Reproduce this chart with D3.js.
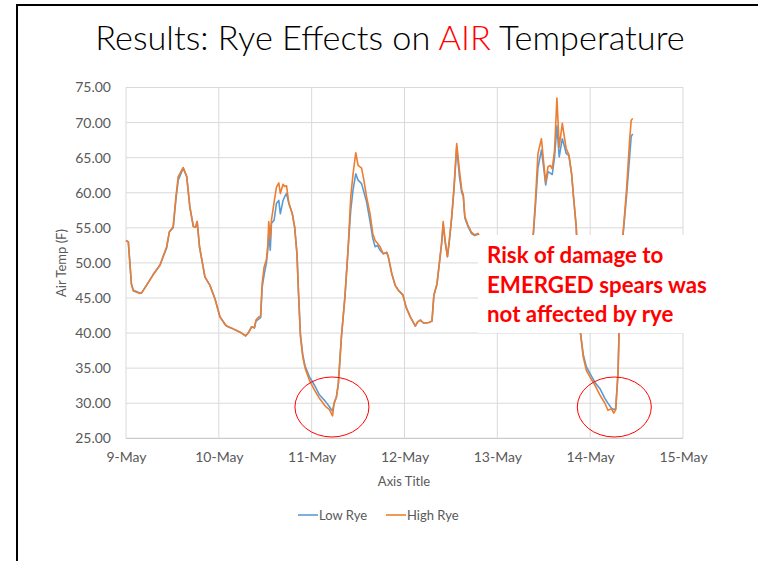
<!DOCTYPE html>
<html lang="en">
<head>
<meta charset="UTF-8" />
<title>Rye Effects on AIR Temperature</title>
<script src="https://d3js.org/d3.v7.min.js"></script>
<style>
  body { margin: 0; background: #fff; }
  svg { display: block; }
  .tick text, .lbl { font-family: Lato, "Open Sans", sans-serif; fill: #595959; }
</style>
</head>
<body>
<script>
// hours after 9-May 00:00
const hours = [0, 0.6, 1.4, 1.9, 3.6, 4.0, 5.3, 7.0, 8.8, 9.6, 10.5, 11.2, 12.2, 12.9, 13.5, 14.8, 15.7, 16.5, 17.4, 18.0,
  18.4, 19.0, 20.4, 21.7, 23.0, 24.3, 25.6, 26.0, 27.3, 29.9, 30.9, 31.6, 32.5, 33.2, 33.6, 34.3, 34.8, 35.2, 35.7, 36.3,
  36.7, 36.9, 37.3, 37.6, 38.3, 38.9, 39.5, 39.9, 40.6, 41.0, 41.5, 42.1, 43.0, 43.6, 44.2, 44.6, 45.1, 45.7, 46.3, 47.4,
  48.7, 50.0, 51.5, 52.6, 53.2, 53.4, 53.8, 54.4, 54.9, 55.7, 56.6, 57.4, 58.1, 58.7, 59.4, 60.0, 60.9, 61.5, 62.2, 63.1,
  63.8, 64.4, 65.0, 65.7, 66.5, 67.4, 67.8, 68.7, 69.6, 70.4, 71.6, 72.4, 73.5, 74.8, 75.4, 76.1, 77.0, 78.3, 79.1, 79.6,
  80.4, 81.0, 81.6, 82.0, 82.5, 83.1, 83.6, 84.2, 84.8, 85.5, 86.2, 86.8, 87.2, 87.6, 88.4, 89.3, 90.1, 91.0, 92.5, 94,
  96, 98, 100, 102, 103.5, 104.5, 105.3, 105.9, 106.5, 107.4, 108.0, 108.5, 109.1, 109.7, 110.2, 110.8, 111.4, 112.0, 112.8, 113.4,
  113.8, 114.5, 115.2, 115.7, 116.4, 117.0, 117.5, 118.2, 119.0, 119.9, 121.2, 122.5, 123.8, 124.6, 125.5, 126.1, 126.6, 127.2, 127.6, 128.0,
  128.5, 129.4, 130.2, 130.6, 131.0];

const lowRye = [53.2, 53.0, 47.0, 46.1, 45.7, 45.7, 46.8, 48.3, 49.7, 50.9, 52.1, 54.4, 55.0, 59.0, 61.8, 63.5, 62.3, 58.0, 55.2, 55.1,
  55.9, 52.3, 48.0, 46.8, 44.9, 42.3, 41.2, 41.0, 40.7, 40.0, 39.6, 40.0, 40.9, 40.7, 41.7, 42.0, 42.2, 46.5, 48.3, 50.0,
  52.1, 54.2, 51.8, 55.6, 56.1, 58.5, 58.9, 57.0, 58.9, 59.4, 59.9, 58.5, 57.0, 55.1, 51.3, 45.7, 39.8, 36.9, 35.3, 33.8,
  32.6, 31.2, 30.3, 29.5, 29.0, 28.9, 30.0, 30.9, 32.8, 39.5, 45.2, 51.8, 57.5, 60.4, 62.7, 61.8, 61.3, 60.1, 58.7, 55.9,
  53.5, 52.3, 52.5, 51.8, 51.3, 51.5, 50.9, 48.5, 46.8, 46.1, 45.4, 43.7, 42.3, 41.0, 41.6, 41.85, 41.4, 41.5, 41.7, 45.4,
  47.0, 49.9, 52.8, 55.5, 53.0, 50.9, 53.2, 56.4, 60.5, 66.5, 62.3, 60.0, 59.5, 56.4, 55.2, 54.2, 53.9, 54.1, 52.5, 49.5,
  46.5, 44.5, 43.5, 44.0, 47.0, 51.0, 54.0, 58.5, 63.5, 66.1, 63.5, 61.1, 63.0, 62.8, 62.6, 65.1, 69.5, 65.1, 67.7, 66.5,
  65.6, 65.3, 62.7, 59.4, 55.1, 47.5, 40.0, 37.0, 35.2, 34.3, 33.0, 32.1, 30.7, 30.0, 29.3, 29.1, 29.2, 34.3, 42.8, 48.5,
  54.0, 59.5, 65.1, 68.0, 68.4];

const highRye = [53.2, 53.0, 47.0, 46.0, 45.65, 45.7, 46.8, 48.3, 49.7, 50.9, 52.3, 54.4, 55.2, 59.4, 62.3, 63.6, 62.3, 58.0, 55.2, 55.1,
  55.9, 52.3, 48.0, 46.8, 44.9, 42.3, 41.3, 41.0, 40.7, 40.0, 39.6, 40.0, 40.9, 40.8, 41.85, 42.3, 42.4, 47.1, 49.4, 50.5,
  52.8, 55.9, 53.5, 56.1, 58.7, 60.8, 61.4, 59.9, 61.2, 60.9, 61.0, 58.5, 57.0, 55.1, 51.3, 45.65, 39.5, 36.6, 35.0, 33.3,
  31.9, 30.7, 29.6, 29.1, 28.4, 28.2, 30.0, 30.9, 32.8, 39.5, 45.2, 51.8, 59.4, 62.7, 65.7, 63.9, 63.5, 61.8, 59.4, 57.0,
  54.2, 53.2, 52.8, 52.3, 51.3, 51.5, 50.9, 48.5, 46.8, 46.1, 45.4, 43.7, 42.3, 41.0, 41.6, 41.85, 41.4, 41.5, 41.7, 45.4,
  47.0, 49.9, 52.8, 55.9, 53.2, 50.9, 53.2, 56.6, 60.8, 67.0, 63.2, 60.4, 59.7, 56.6, 55.4, 54.4, 54.0, 54.2, 52.5, 49.5,
  46.5, 44.5, 43.5, 44.0, 47.0, 51.0, 54.2, 59.4, 65.6, 67.7, 64.2, 61.5, 63.7, 63.9, 63.4, 66.1, 73.5, 66.5, 69.9, 67.7,
  66.3, 65.4, 62.7, 59.4, 55.1, 47.5, 40.0, 36.6, 34.7, 33.8, 32.6, 31.2, 30.0, 29.0, 29.2, 28.6, 29.1, 34.3, 42.8, 48.5,
  54.2, 60.4, 67.5, 70.3, 70.6];

const yTicks = [25, 30, 35, 40, 45, 50, 55, 60, 65, 70, 75];
const seriesNames = ["Low Rye", "High Rye"];
const seriesColors = ["#5B9BD5", "#ED7D31"];
const noteLines = ["Risk of damage to", "EMERGED spears was", "not affected by rye"];

const W = 758, H = 561;
const start = new Date(Date.UTC(2017, 4, 9));
const end = new Date(Date.UTC(2017, 4, 15));
const toDate = h => new Date(start.getTime() + h * 3600 * 1000);

const svg = d3.select("body").append("svg").attr("width", W).attr("height", H);

// slide frame
svg.append("rect").attr("x", 17).attr("y", 5).attr("width", 800).attr("height", 600)
  .attr("fill", "none").attr("stroke", "#000").attr("stroke-width", 2);

// title
const title = svg.append("text").attr("x", 390).attr("y", 50).attr("text-anchor", "middle")
  .style("font-family", "Lato, 'Open Sans', sans-serif").style("font-weight", 300)
  .style("font-size", "34.3px").attr("fill", "#000");
title.append("tspan").text("Results: Rye Effects on ");
title.append("tspan").attr("fill", "#FF0000").text("AIR");
title.append("tspan").text(" Temperature");

const x = d3.scaleUtc().domain([start, end]).range([126, 683]);
const y = d3.scaleLinear().domain([25, 75]).range([438.3, 87.5]);

// gridlines
svg.append("g").selectAll("line").data(yTicks).join("line")
  .attr("x1", x.range()[0]).attr("x2", x.range()[1])
  .attr("y1", d => y(d)).attr("y2", d => y(d))
  .attr("stroke", d => d === 25 ? "#BFBFBF" : "#D9D9D9").attr("stroke-width", 1);
const days = d3.utcDay.range(start, d3.utcDay.offset(end, 1));
svg.append("g").selectAll("line").data(days).join("line")
  .attr("x1", d => x(d)).attr("x2", d => x(d))
  .attr("y1", y(25)).attr("y2", y(75))
  .attr("stroke", "#D9D9D9").attr("stroke-width", 1);

// axes (labels only)
const yAxis = svg.append("g").attr("transform", `translate(${x.range()[0]},0)`)
  .call(d3.axisLeft(y).tickValues(yTicks).tickFormat(d3.format(".2f")).tickSize(0).tickPadding(15));
const xAxis = svg.append("g").attr("transform", `translate(0,${y(25)})`)
  .call(d3.axisBottom(x).tickValues(days).tickFormat(d3.utcFormat("%-d-%b")).tickSize(0).tickPadding(14));
[yAxis, xAxis].forEach(a => {
  a.select(".domain").remove();
  a.selectAll("text").style("font-size", "14px");
});

svg.append("text").attr("class", "lbl").attr("transform", "translate(66,263) rotate(-90)")
  .attr("text-anchor", "middle").style("font-size", "13px").text("Air Temp (F)");
svg.append("text").attr("class", "lbl").attr("x", 404).attr("y", 486)
  .attr("text-anchor", "middle").style("font-size", "13px").text("Axis Title");

// series
const series = [lowRye, highRye];
const line = d3.line().x((d, i) => x(toDate(hours[i]))).y(d => y(d));
svg.append("g").selectAll("path").data(series).join("path")
  .attr("d", d => line(d)).attr("fill", "none")
  .attr("stroke", (d, i) => seriesColors[i]).attr("stroke-width", 1.6)
  .attr("stroke-linejoin", "round");

// note box
svg.append("rect").attr("x", 478).attr("y", 235).attr("width", 240).attr("height", 98).attr("fill", "#fff");
svg.append("g").selectAll("text").data(noteLines).join("text")
  .attr("x", 487).attr("y", (d, i) => 263 + i * 29.5)
  .style("font-family", "Lato, 'Open Sans', sans-serif").style("font-weight", 700)
  .style("font-size", "22.3px").attr("fill", "#FF0000").text(d => d);

// circled frost events
svg.append("g").selectAll("ellipse").data([53.5, 126.5]).join("ellipse")
  .attr("cx", d => x(toDate(d)) - 1).attr("cy", 407).attr("rx", 37).attr("ry", 30)
  .attr("fill", "none").attr("stroke", "#FF0000").attr("stroke-width", 1);

// legend
const leg = svg.append("g").selectAll("g").data(seriesNames).join("g")
  .attr("transform", (d, i) => `translate(${298 + i * 88},515)`);
leg.append("line").attr("x1", 0).attr("x2", 20)
  .attr("stroke", (d, i) => seriesColors[i]).attr("stroke-width", 1.6);
leg.append("text").attr("class", "lbl").attr("x", 21).attr("dy", "0.35em")
  .style("font-size", "13px").text(d => d);
</script>
</body>
</html>
